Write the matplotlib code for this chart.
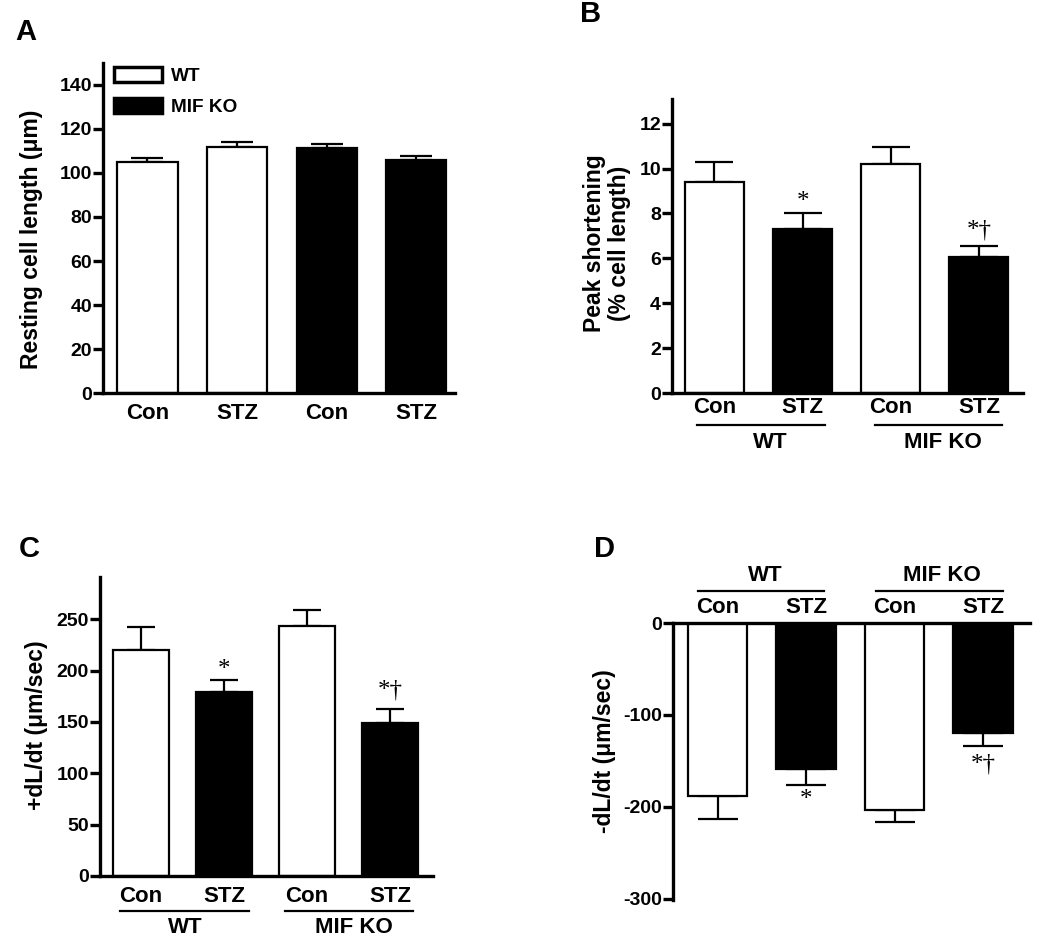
import matplotlib
matplotlib.use("Agg")
import matplotlib.pyplot as plt
from matplotlib.patches import Patch

plt.rcParams["font.family"] = ["Liberation Sans", "DejaVu Sans"]
plt.rcParams["font.weight"] = "bold"
plt.rcParams["axes.unicode_minus"] = False

W, H = 1050, 941

# data
cond_labels = ["Con", "STZ", "Con", "STZ"]
group_labels = ["WT", "MIF KO"]

resting_len = [105, 112, 111.5, 106]
resting_err = [1.7, 2.1, 1.7, 1.8]

peak_short = [9.4, 7.3, 10.2, 6.05]
peak_err = [0.88, 0.72, 0.75, 0.5]

plus_dldt = [220, 179, 243, 149]
plus_err = [22, 12, 16, 14]

minus_dldt = [-188, -159, -203, -120]
minus_err = [25, 17, 14, 14]

# significance marks: (bar index, text)
marks_b = [(1, "*"), (3, "*\u2020")]
marks_c = [(1, "*"), (3, "*\u2020")]
marks_d = [(1, "*"), (3, "*\u2020")]


def px_axes(l, t, r, b):
    return [l / W, 1 - b / H, (r - l) / W, (b - t) / H]


def style(ax, top=False):
    for s in ["top", "right", "bottom", "left"]:
        ax.spines[s].set_visible(False)
    ax.spines["left"].set_visible(True)
    ax.spines["left"].set_linewidth(2.4)
    side = "top" if top else "bottom"
    ax.spines[side].set_visible(True)
    ax.spines[side].set_linewidth(2.4)
    ax.tick_params(axis="y", length=7, width=2.4, pad=1, labelsize=14)
    ax.tick_params(axis="x", length=0, labelsize=16)
    ax.set_facecolor("none")


def bars(ax, vals, errs, colors, capsize, down=False):
    x = list(range(len(vals)))
    ax.bar(x, vals, width=0.67, color=colors, edgecolor="black",
           linewidth=1.6, zorder=2)
    if down:
        yerr = [errs, [0] * len(errs)]
    else:
        yerr = [[0] * len(errs), errs]
    ax.errorbar(x, vals, yerr=yerr, fmt="none", ecolor="black",
                elinewidth=1.6, capsize=capsize, capthick=1.6, zorder=1)


def marks(ax, items, vals, errs, offsets):
    for (i, txt), off in zip(items, offsets):
        y = vals[i] + errs[i] if vals[i] >= 0 else vals[i] - errs[i]
        ax.annotate(txt, (i, y), xytext=(0, off), textcoords="offset points",
                    ha="center", va="center", fontsize=18,
                    family="Liberation Serif", fontweight="normal")


def groups(ax, line_y, text_y, spans, centers):
    tr = ax.get_xaxis_transform()
    for (x0, x1), xc, lab in zip(spans, centers, group_labels):
        ax.plot([x0, x1], [line_y, line_y], color="black", lw=1.6,
                transform=tr, clip_on=False)
        ax.text(xc, text_y, lab, transform=tr, ha="center", va="center",
                fontsize=16)


fig = plt.figure(figsize=(W / 100, H / 100), dpi=100)

white_black = ["white", "black", "white", "black"]

# Panel A
axA = fig.add_axes(px_axes(103, 63, 455, 393))
style(axA)
bars(axA, resting_len, resting_err, ["white", "white", "black", "black"], 11.5)
axA.set_xlim(-0.496, 3.43)
axA.set_ylim(0, 150)
axA.set_yticks(range(0, 141, 20))
axA.set_xticks(range(4))
axA.set_xticklabels(cond_labels)
axA.tick_params(axis="x", pad=7)
fig.legend(handles=[Patch(facecolor="white", edgecolor="black", linewidth=2.5, label="WT"),
                    Patch(facecolor="black", edgecolor="black", linewidth=2.5, label="MIF KO")],
           loc="upper left", bbox_to_anchor=(114 / W, 1 - 67 / H), frameon=False,
           fontsize=13.7, handlelength=2.5, handleheight=0.8, handletextpad=0.5,
           labelspacing=0.7, borderpad=0, borderaxespad=0)

# Panel B
axB = fig.add_axes(px_axes(672, 99, 1023, 393))
style(axB)
bars(axB, peak_short, peak_err, white_black, 14)
axB.set_xlim(-0.482, 3.5)
axB.set_ylim(0, 13.1)
axB.set_yticks(range(0, 13, 2))
axB.set_xticks(range(4))
axB.set_xticklabels(cond_labels)
axB.tick_params(axis="x", pad=3)
marks(axB, marks_b, peak_short, peak_err, [8, 11])
groups(axB, -0.109, -0.167, [(-0.2, 1.25), (1.82, 3.26)], [0.63, 2.59])

# Panel C
axC = fig.add_axes(px_axes(100, 577, 433, 876))
style(axC)
bars(axC, plus_dldt, plus_err, white_black, 10)
axC.set_xlim(-0.494, 3.518)
axC.set_ylim(0, 291)
axC.set_yticks(range(0, 251, 50))
axC.set_xticks(range(4))
axC.set_xticklabels(cond_labels)
axC.tick_params(axis="x", pad=7)
marks(axC, marks_c, plus_dldt, plus_err, [7, 13])
groups(axC, -0.117, -0.171, [(-0.25, 1.30), (1.73, 3.28)], [0.53, 2.57])

# Panel D
axD = fig.add_axes(px_axes(673, 623, 1030, 900))
style(axD, top=True)
bars(axD, minus_dldt, minus_err, white_black, 14.4, down=True)
axD.set_xlim(-0.503, 3.53)
axD.set_ylim(-301.5, 0)
axD.set_yticks([0, -100, -200, -300])
axD.xaxis.tick_top()
axD.set_xticks(range(4))
axD.set_xticklabels(cond_labels)
axD.tick_params(axis="x", pad=3.8)
marks(axD, marks_d, minus_dldt, minus_err, [-11, -13])
groups(axD, 1.1155, 1.17, [(-0.22, 1.20), (1.79, 3.23)], [0.54, 2.54])

# y labels
fig.text(32 / W, 1 - 239 / H, "Resting cell length (\u03bcm)", rotation=90,
         ha="center", va="center", fontsize=16.5)
fig.text(607 / W, 1 - 243 / H, "Peak shortening\n(% cell length)", rotation=90,
         ha="center", va="center", fontsize=16.5, multialignment="center",
         linespacing=1.1)
fig.text(37 / W, 1 - 725 / H, "+dL/dt (\u03bcm/sec)", rotation=90,
         ha="center", va="center", fontsize=16.5)
fig.text(605 / W, 1 - 751 / H, "-dL/dt (\u03bcm/sec)", rotation=90,
         ha="center", va="center", fontsize=16.5)

# panel letters
for lab, x, y in [("A", 15, 40), ("B", 580, 22), ("C", 18.5, 557), ("D", 594, 557)]:
    fig.text(x / W, 1 - y / H, lab, ha="left", va="baseline", fontsize=21)

fig.savefig("out.png", dpi=100)
